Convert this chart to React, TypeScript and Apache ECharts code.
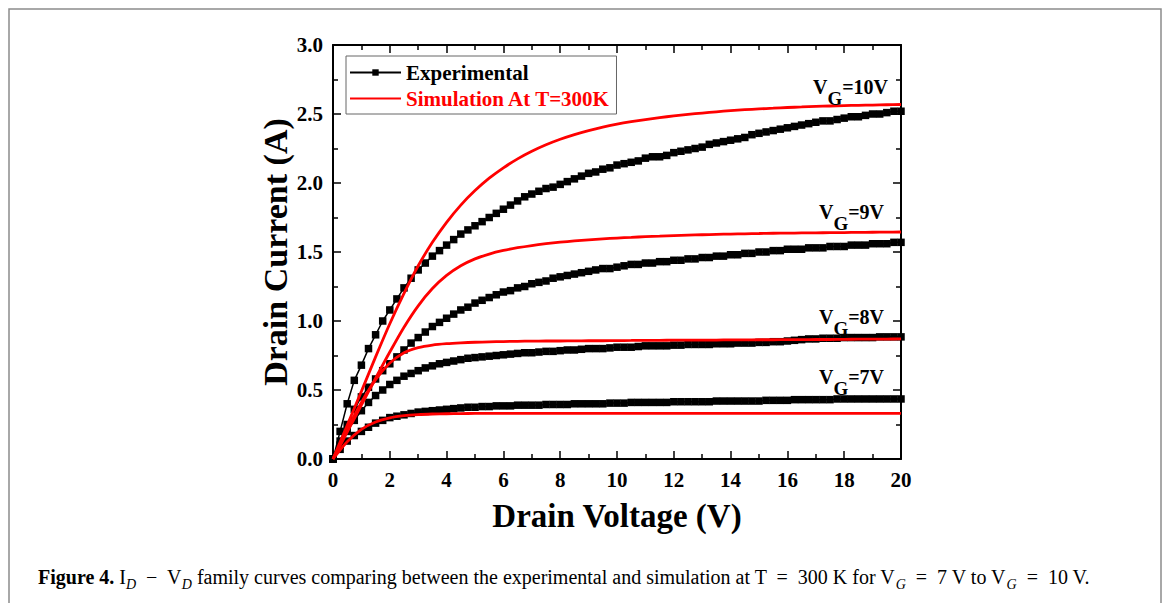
import React, { useEffect, useRef } from "react";
import * as echarts from "echarts";

const FONT = "'Liberation Serif','Times New Roman',Times,serif";

// Experimental drain voltage grid (V)
const expV = [
  0, 0.25, 0.5, 0.75, 1, 1.25, 1.5, 1.75, 2, 2.25, 2.5, 2.75, 3, 3.25, 3.5, 3.75, 4, 4.25, 4.5, 4.75,
  5, 5.25, 5.5, 5.75, 6, 6.25, 6.5, 6.75, 7, 7.25, 7.5, 7.75, 8, 8.25, 8.5, 8.75, 9, 9.25, 9.5, 9.75,
  10, 10.25, 10.5, 10.75, 11, 11.25, 11.5, 11.75, 12, 12.25, 12.5, 12.75, 13, 13.25, 13.5, 13.75, 14, 14.25, 14.5, 14.75,
  15, 15.25, 15.5, 15.75, 16, 16.25, 16.5, 16.75, 17, 17.25, 17.5, 17.75, 18, 18.25, 18.5, 18.75, 19, 19.25, 19.5, 19.75, 20,
];

const exp10 = [
  0, 0.2, 0.4, 0.57, 0.68, 0.8, 0.9, 1.0, 1.08, 1.16, 1.24, 1.31, 1.37, 1.42, 1.47, 1.51, 1.55, 1.59, 1.63, 1.66,
  1.69, 1.72, 1.75, 1.78, 1.81, 1.84, 1.87, 1.9, 1.92, 1.94, 1.96, 1.97, 1.99, 2.01, 2.03, 2.05, 2.07, 2.08, 2.1, 2.11,
  2.13, 2.14, 2.15, 2.16, 2.18, 2.19, 2.19, 2.2, 2.22, 2.23, 2.24, 2.25, 2.26, 2.28, 2.29, 2.3, 2.31, 2.32, 2.33, 2.35,
  2.36, 2.37, 2.38, 2.39, 2.4, 2.41, 2.42, 2.43, 2.44, 2.45, 2.45, 2.46, 2.47, 2.48, 2.48, 2.49, 2.5, 2.5, 2.51, 2.52, 2.52,
];

const exp9 = [
  0, 0.13, 0.25, 0.36, 0.45, 0.52, 0.58, 0.64, 0.69, 0.74, 0.79, 0.84, 0.88, 0.92, 0.96, 0.99, 1.02, 1.05, 1.08, 1.1,
  1.13, 1.15, 1.17, 1.19, 1.21, 1.22, 1.24, 1.25, 1.27, 1.28, 1.29, 1.31, 1.32, 1.33, 1.34, 1.35, 1.36, 1.37, 1.38, 1.38,
  1.39, 1.4, 1.41, 1.41, 1.42, 1.42, 1.43, 1.43, 1.44, 1.44, 1.45, 1.45, 1.46, 1.46, 1.47, 1.47, 1.48, 1.48, 1.49, 1.49,
  1.5, 1.5, 1.51, 1.51, 1.52, 1.52, 1.52, 1.53, 1.53, 1.53, 1.54, 1.54, 1.54, 1.55, 1.55, 1.55, 1.56, 1.56, 1.56, 1.57, 1.57,
];

const exp8 = [
  0, 0.1, 0.2, 0.28, 0.35, 0.41, 0.46, 0.5, 0.54, 0.57, 0.6, 0.62, 0.64, 0.66, 0.675, 0.69, 0.7, 0.71, 0.72, 0.73,
  0.735, 0.74, 0.745, 0.75, 0.755, 0.76, 0.765, 0.77, 0.77, 0.775, 0.78, 0.78, 0.785, 0.79, 0.79, 0.795, 0.8, 0.8, 0.8, 0.805,
  0.81, 0.81, 0.81, 0.815, 0.82, 0.82, 0.82, 0.82, 0.825, 0.825, 0.83, 0.83, 0.83, 0.83, 0.835, 0.835, 0.835, 0.84, 0.84, 0.84,
  0.845, 0.845, 0.85, 0.85, 0.855, 0.86, 0.865, 0.87, 0.87, 0.875, 0.875, 0.875, 0.88, 0.88, 0.88, 0.88, 0.88, 0.885, 0.885, 0.885, 0.885,
];

const exp7 = [
  0, 0.07, 0.13, 0.17, 0.2, 0.23, 0.26, 0.28, 0.3, 0.31, 0.32, 0.33, 0.34, 0.345, 0.35, 0.355, 0.36, 0.365, 0.37, 0.375,
  0.375, 0.38, 0.38, 0.385, 0.385, 0.385, 0.39, 0.39, 0.39, 0.39, 0.395, 0.395, 0.395, 0.395, 0.4, 0.4, 0.4, 0.4, 0.4, 0.405,
  0.405, 0.405, 0.41, 0.41, 0.41, 0.41, 0.41, 0.41, 0.415, 0.415, 0.415, 0.415, 0.415, 0.415, 0.42, 0.42, 0.42, 0.42, 0.42, 0.42,
  0.42, 0.425, 0.425, 0.425, 0.425, 0.43, 0.43, 0.43, 0.43, 0.43, 0.43, 0.435, 0.435, 0.435, 0.435, 0.435, 0.435, 0.435, 0.435, 0.435, 0.435,
];

// Simulation drain voltage grid (V)
const simV = [
  0, 0.5, 1, 1.5, 2, 2.5, 3, 3.5, 4, 4.5, 5, 5.5, 6, 6.5, 7, 7.5, 8, 8.5, 9, 9.5,
  10, 10.5, 11, 11.5, 12, 12.5, 13, 13.5, 14, 14.5, 15, 15.5, 16, 16.5, 17, 17.5, 18, 18.5, 19, 19.5, 20,
];

const sim10 = [
  0, 0.245, 0.49, 0.74, 0.98, 1.2, 1.4, 1.57, 1.715, 1.84, 1.945, 2.035, 2.11, 2.175, 2.23, 2.277, 2.317, 2.351, 2.38, 2.405,
  2.426, 2.444, 2.46, 2.474, 2.486, 2.497, 2.507, 2.516, 2.524, 2.531, 2.537, 2.542, 2.547, 2.551, 2.555, 2.558, 2.561, 2.563, 2.565, 2.567, 2.569,
];
const sim9 = [
  0, 0.195, 0.39, 0.585, 0.775, 0.955, 1.11, 1.235, 1.33, 1.4, 1.45, 1.485, 1.511, 1.531, 1.547, 1.56, 1.571, 1.58, 1.588, 1.595,
  1.601, 1.606, 1.611, 1.615, 1.619, 1.622, 1.625, 1.628, 1.63, 1.632, 1.634, 1.636, 1.637, 1.638, 1.639, 1.64, 1.641, 1.642, 1.643, 1.644, 1.645,
];
const sim8 = [
  0, 0.215, 0.41, 0.575, 0.695, 0.77, 0.807, 0.826, 0.836, 0.842, 0.846, 0.849, 0.851, 0.853, 0.854, 0.855, 0.855, 0.856, 0.857, 0.857,
  0.858, 0.859, 0.86, 0.86, 0.861, 0.861, 0.862, 0.862, 0.863, 0.863, 0.864, 0.864, 0.865, 0.865, 0.866, 0.866, 0.867, 0.868, 0.868, 0.869, 0.87,
];
const sim7 = [
  0, 0.125, 0.215, 0.268, 0.298, 0.314, 0.322, 0.326, 0.328, 0.329, 0.33, 0.33, 0.33, 0.33, 0.33, 0.33, 0.33, 0.33, 0.33, 0.33,
  0.33, 0.33, 0.33, 0.33, 0.33, 0.33, 0.33, 0.33, 0.33, 0.33, 0.33, 0.33, 0.33, 0.33, 0.33, 0.33, 0.33, 0.33, 0.33, 0.33, 0.33,
];

const EXP_NAME = "Experimental";
const SIM_NAME = "Simulation At T=300K";

const gateLabels = ["10", "9", "8", "7"];

const pair = (xs: number[], ys: number[]) => xs.map((x, i) => [x, ys[i]]);

export default function App() {
  const ref = useRef<HTMLDivElement>(null);

  useEffect(() => {
    if (!ref.current) return;
    const chart = echarts.init(ref.current, null, { renderer: "svg" });

    const axisCommon = {
      type: "value",
      axisLine: { show: true, onZero: false, lineStyle: { color: "#000", width: 2 } },
      axisTick: { show: true, inside: true, length: 8, lineStyle: { color: "#000", width: 1.5 } },
      minorTick: { show: true, splitNumber: 2, length: 5, lineStyle: { color: "#000", width: 1.5 } },
      splitLine: { show: false },
      minorSplitLine: { show: false },
    };
    const labelStyle = { color: "#000", fontFamily: FONT, fontWeight: "bold", fontSize: 21 };

    const expSets = [exp10, exp9, exp8, exp7];
    const simSets = [sim10, sim9, sim8, sim7];

    const series: any[] = [];
    expSets.forEach((ys) => {
      series.push({
        type: "line",
        name: EXP_NAME,
        data: pair(expV, ys),
        symbol: "rect",
        symbolSize: 7.5,
        showSymbol: true,
        showAllSymbol: true,
        lineStyle: { color: "#000", width: 1.5 },
        itemStyle: { color: "#000" },
        z: 2,
      });
    });
    simSets.forEach((ys) => {
      series.push({
        type: "line",
        name: SIM_NAME,
        data: pair(simV, ys),
        smooth: 0.3,
        showSymbol: false,
        symbol: "none",
        lineStyle: { color: "#ff0000", width: 2.8 },
        itemStyle: { color: "#ff0000" },
        z: 3,
      });
    });

    const vgY = [77, 202, 307, 367];
    const vgX = [888, 884, 884, 884];
    const vgTexts = gateLabels.map((g, i) => ({
      type: "text",
      x: vgX[i],
      y: vgY[i],
      z: 10,
      style: {
        text: `{v|V}{g|G}{v|=${g}V}`,
        align: "right",
        verticalAlign: "top",
        rich: {
          v: { fontFamily: FONT, fontWeight: "bold", fontSize: 20, lineHeight: 20, verticalAlign: "top", fill: "#000" },
          g: { fontFamily: FONT, fontWeight: "bold", fontSize: 19, lineHeight: 31, verticalAlign: "bottom", fill: "#000" },
        },
      },
    }));

    const option: any = {
      animation: false,
      backgroundColor: "#fff",
      grid: { left: 333, top: 45, right: 269, bottom: 144, containLabel: false },
      xAxis: [
        { ...axisCommon, min: 0, max: 20, interval: 2, position: "bottom", axisLabel: { ...labelStyle, margin: 10 } },
        { ...axisCommon, min: 0, max: 20, interval: 2, position: "top", axisLabel: { show: false } },
      ],
      yAxis: [
        {
          ...axisCommon,
          min: 0,
          max: 3,
          interval: 0.5,
          position: "left",
          axisLabel: { ...labelStyle, margin: 10, formatter: (v: number) => v.toFixed(1) },
        },
        { ...axisCommon, min: 0, max: 3, interval: 0.5, position: "right", axisLabel: { show: false } },
      ],
      legend: {
        orient: "vertical",
        left: 346,
        top: 56,
        padding: [6, 6, 5, 3],
        itemGap: 5,
        itemWidth: 51,
        itemHeight: 8,
        borderColor: "#666",
        borderWidth: 1,
        borderRadius: 0,
        backgroundColor: "#fff",
        textStyle: { fontFamily: FONT, fontWeight: "bold", fontSize: 21, color: "#000" },
        data: [
          { name: EXP_NAME, textStyle: { color: "#000" } },
          { name: SIM_NAME, textStyle: { color: "#ff0000" }, itemStyle: { opacity: 0 } },
        ],
        selectedMode: false,
      },
      series,
      graphic: [
        {
          type: "rect",
          shape: { x: 9, y: 9, width: 1152, height: 640 },
          style: { fill: "none", stroke: "#8c8c8c", lineWidth: 1.5 },
          silent: true,
          z: -1,
        },
        ...vgTexts,
        {
          type: "text",
          x: 617,
          y: 516,
          style: {
            text: "Drain Voltage (V)",
            align: "center",
            verticalAlign: "middle",
            fontFamily: FONT,
            fontWeight: "bold",
            fontSize: 33,
            fill: "#000",
          },
        },
        {
          type: "text",
          x: 275,
          y: 252,
          rotation: Math.PI / 2,
          style: {
            text: "Drain Current (A)",
            align: "center",
            verticalAlign: "middle",
            fontFamily: FONT,
            fontWeight: "bold",
            fontSize: 34,
            fill: "#000",
          },
        },
        {
          type: "text",
          x: 38,
          y: 579,
          style: {
            text:
              "{b|Figure 4.}{n| I}{s|D}{n|  −  V}{s|D}{n| family curves comparing between the experimental and simulation at T  =  300 K for V}{s|G}{n|  =  7 V to V}{s|G}{n|  =  10 V.}",
            align: "left",
            verticalAlign: "middle",
            rich: {
              b: { fontFamily: FONT, fontWeight: "bold", fontSize: 20, lineHeight: 22, verticalAlign: "top", fill: "#000" },
              n: { fontFamily: FONT, fontSize: 20, lineHeight: 22, verticalAlign: "top", fill: "#000" },
              s: { fontFamily: FONT, fontStyle: "italic", fontSize: 14, lineHeight: 25, verticalAlign: "bottom", fill: "#000" },
            },
          },
        },
      ],
    };

    chart.setOption(option);
    return () => chart.dispose();
  }, []);

  return (
    <div
      ref={ref}
      style={{ position: "absolute", left: 0, top: 0, width: 1170, height: 603, background: "#fff" }}
    />
  );
}
